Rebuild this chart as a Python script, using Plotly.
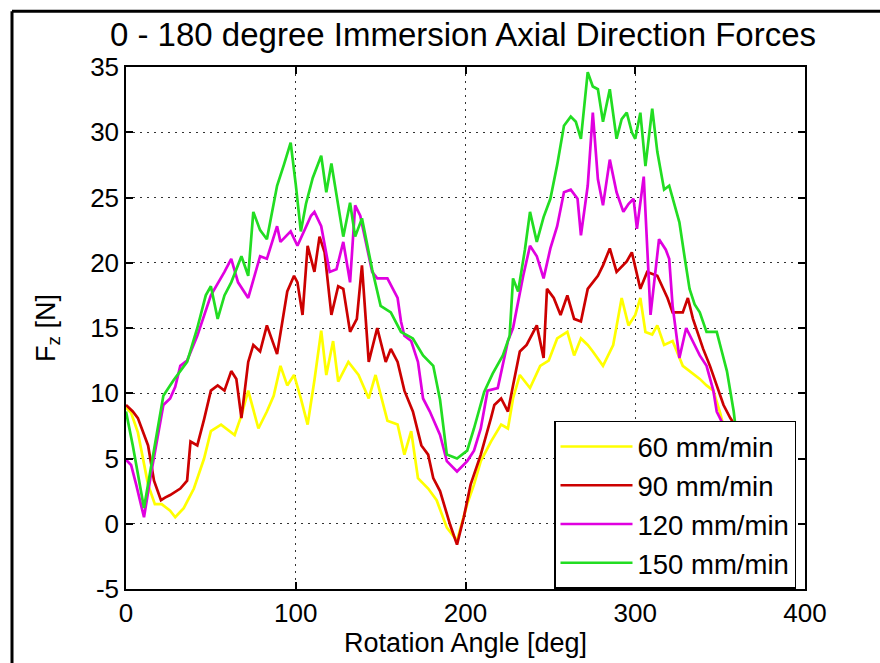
import plotly.graph_objects as go

# ---------------- data ----------------
angle_60 = [0, 3, 7, 10, 13, 17, 21, 26, 29, 34, 40, 46, 50, 56, 64, 68, 72, 78, 83, 87, 91, 95, 99,
            103, 107, 111, 115, 118, 122, 125, 131, 137, 143, 147, 154, 160, 164, 168, 172, 178, 183,
            189, 195, 201, 205, 209, 215, 221, 225, 228, 232, 238, 244, 249, 254, 260, 264, 268, 272,
            275, 281, 287, 292, 296, 300, 303, 306, 310, 313, 317, 322, 328, 332, 338, 342, 346, 350, 353]
force_60 = [8.9, 8.5, 7.0, 5.0, 3.0, 1.5, 1.5, 1.0, 0.5, 1.2, 2.7, 5.0, 7.1, 7.6, 6.8, 8.3, 10.2, 7.3,
            8.6, 9.8, 12.1, 10.6, 11.4, 9.6, 7.6, 11.0, 14.8, 11.4, 14.0, 10.9, 12.4, 11.4, 9.6, 11.4,
            7.9, 7.6, 5.3, 7.1, 3.5, 2.7, 1.8, -0.3, -1.3, 1.5, 3.0, 4.8, 6.3, 7.6, 7.3, 9.6, 11.4,
            10.4, 12.1, 12.5, 14.2, 14.7, 12.9, 14.2, 13.7, 13.2, 12.1, 13.7, 17.3, 15.2, 16.0, 17.3,
            14.7, 14.5, 15.2, 13.7, 14.0, 12.1, 11.7, 11.1, 10.6, 10.2, 8.5, 7.0]

angle_90 = [0, 4, 7, 13, 16.5, 20.6, 23, 26, 32, 36, 38, 42, 46, 50, 54, 58, 62, 65, 68, 72, 75, 79,
            83, 89, 95, 99, 101, 104, 107, 111, 114, 117, 121, 125, 128, 132, 136, 139, 143, 146, 148,
            153, 156, 160, 164, 169, 174, 178, 181, 185, 191, 195, 199, 203, 209, 215, 217, 221, 225,
            228, 232, 236, 242, 246, 248, 252, 256, 260, 264, 268, 272, 278, 281, 285, 289, 295, 298,
            303, 307, 313, 319, 322, 328, 331, 334, 340, 344, 348, 352, 356, 359]
force_90 = [9.1, 8.6, 8.1, 6.0, 3.3, 1.8, 2.0, 2.2, 2.7, 3.3, 6.3, 6.0, 8.0, 10.2, 10.6, 10.2, 11.7,
            11.1, 8.1, 12.4, 13.7, 13.2, 15.2, 13.0, 17.8, 19.0, 18.5, 16.0, 21.3, 19.3, 22.0, 20.8,
            16.0, 18.2, 18.0, 14.7, 15.7, 19.8, 12.4, 14.0, 15.0, 12.4, 13.4, 12.4, 10.2, 8.6, 6.0,
            5.3, 3.5, 2.5, -0.1, -1.6, 0.5, 3.0, 5.3, 8.1, 9.1, 9.6, 8.6, 10.6, 13.2, 13.7, 15.2,
            12.7, 18.0, 17.3, 16.0, 17.5, 15.7, 15.5, 18.0, 19.0, 19.8, 21.1, 19.3, 20.1, 20.8, 18.0,
            19.3, 19.0, 17.3, 16.2, 16.2, 17.3, 15.7, 13.4, 12.1, 10.6, 9.1, 8.1, 7.5]

angle_120 = [0, 3, 6, 10.6, 15, 19, 22, 26, 29, 32, 36, 42, 50, 58, 62, 66, 72, 79, 83, 89, 91, 97,
             101, 109, 111, 115, 120, 124, 128, 132, 135, 138, 142, 145, 148, 154, 160, 162, 164, 168,
             172, 175, 179, 185, 189, 195, 201, 205, 209, 213, 219, 225, 228, 234, 238, 242, 246, 250,
             254, 258, 262, 266, 268, 272, 275, 278, 281, 285, 289, 293, 296, 299, 301, 305, 309, 314,
             318, 320, 322, 326, 330, 334, 338, 342, 346, 348, 352, 356]
force_120 = [4.9, 4.5, 3.0, 0.5, 4.0, 7.0, 9.1, 9.6, 10.5, 12.1, 12.5, 14.4, 17.5, 19.3, 20.3, 18.5,
             17.3, 20.5, 20.3, 22.8, 21.6, 22.4, 21.3, 23.6, 23.9, 22.8, 19.3, 19.5, 21.6, 18.5, 24.4,
             23.6, 21.0, 19.3, 18.8, 18.8, 17.3, 15.5, 14.4, 14.0, 12.4, 9.6, 8.6, 6.8, 4.8, 4.0, 4.8,
             5.6, 7.3, 10.2, 10.4, 14.0, 15.0, 19.0, 21.3, 20.5, 18.8, 21.1, 22.8, 25.4, 25.6, 24.9,
             22.1, 25.9, 31.5, 26.4, 24.4, 27.9, 25.4, 23.9, 24.5, 24.9, 22.6, 26.6, 16.0, 21.8, 21.0,
             20.3, 16.7, 12.7, 15.0, 14.0, 12.9, 12.1, 10.2, 8.6, 7.5, 6.5]

angle_150 = [0, 4, 10.6, 15, 22, 28, 36, 42, 47, 50, 54, 58, 62, 68, 72, 75, 79, 83, 86, 89, 93, 97,
             100, 103, 106, 110, 115, 118, 121, 125, 128, 132, 135, 139, 142, 145, 150, 156, 162, 169,
             175, 181, 185, 189, 195, 201, 205, 211, 216, 222, 226, 228, 231, 235, 238, 242, 246, 250,
             254, 258, 262, 265, 268, 272, 275, 278, 281, 285, 289, 292, 295, 298, 300, 303, 306, 310,
             313, 317, 320, 323, 326, 329, 332, 335, 338, 342, 348, 351, 354, 358, 359]
force_150 = [8.6, 6.0, 1.2, 4.5, 9.8, 11.0, 12.4, 15.0, 17.5, 18.2, 15.7, 17.5, 18.5, 20.5, 19.0,
             23.9, 22.5, 21.8, 24.0, 25.9, 27.5, 29.2, 26.0, 22.4, 24.5, 26.5, 28.2, 25.4, 27.6, 24.5,
             22.0, 24.6, 22.0, 23.4, 21.5, 19.5, 16.7, 16.2, 14.7, 14.2, 12.9, 12.1, 9.5, 5.3, 5.0,
             5.6, 7.3, 10.1, 11.5, 12.9, 14.4, 18.8, 17.8, 21.0, 23.9, 21.6, 23.5, 24.9, 27.5, 30.5,
             31.2, 30.8, 29.5, 34.6, 33.5, 33.3, 30.8, 33.3, 29.5, 31.0, 31.5, 30.0, 29.5, 31.5, 27.4,
             31.8, 28.5, 25.6, 25.9, 24.5, 23.1, 20.5, 18.0, 16.8, 16.2, 14.7, 14.7, 13.2, 11.7, 8.6, 7.5]

series_names = ["60 mm/min", "90 mm/min", "120 mm/min", "150 mm/min"]
series_x = [angle_60, angle_90, angle_120, angle_150]
series_y = [force_60, force_90, force_120, force_150]
series_colors = ["#ffff00", "#cc0000", "#e000e0", "#22dd22"]

x_ticks = [0, 100, 200, 300, 400]
x_tick_labels = ["0", "100", "200", "300", "400"]
y_ticks = [-5, 0, 5, 10, 15, 20, 25, 30, 35]
y_tick_labels = ["-5", "0", "5", "10", "15", "20", "25", "30", "35"]

title_text = "0 - 180 degree Immersion Axial Direction Forces"
x_title = "Rotation Angle [deg]"
y_title = "F<sub>z</sub> [N]"

# ---------------- figure ----------------
FONT = "Liberation Sans, Arial, sans-serif"
fig = go.Figure()
for i, (nm, xs, ys, col) in enumerate(zip(series_names, series_x, series_y, series_colors)):
    fig.add_trace(go.Scatter(x=xs, y=ys, mode="lines", name=nm, legendgroup=f"g{i}",
                             line=dict(color=col, width=2.7)))

W, H = 880, 663
L, R, T, B = 126, 75, 67, 72
pw, ph = W - L - R, H - T - B

def px_to_paper_x(px):
    return (px - L) / pw

def px_to_paper_y(py):
    return (H - B - py) / ph

axis_common = dict(showline=True, linecolor="black", linewidth=1.5, mirror="ticks",
                   ticks="inside", ticklen=7, tickcolor="black", tickwidth=1.5,
                   showgrid=True, gridcolor="#333333", griddash="2px,5px", gridwidth=1,
                   zeroline=False, tickfont=dict(family=FONT, size=26, color="black"))

fig.update_layout(
    width=W, height=H,
    margin=dict(l=L, r=R, t=T, b=B),
    paper_bgcolor="white", plot_bgcolor="white",
    font=dict(family=FONT, color="black"),
    title=dict(text=title_text, x=px_to_paper_x(463), xref="paper", xanchor="center",
               y=1 - 34 / H, yref="container", yanchor="middle",
               font=dict(family=FONT, size=33, color="black")),
    xaxis=dict(range=[0, 400], tickvals=x_ticks, ticktext=x_tick_labels,
               title=dict(text=x_title, font=dict(family=FONT, size=27), standoff=4),
               **axis_common),
    yaxis=dict(range=[-5, 35], tickvals=y_ticks, ticktext=y_tick_labels,
               title=dict(text=y_title, font=dict(family=FONT, size=27), standoff=27),
               **axis_common),
    legend=dict(x=px_to_paper_x(796), xanchor="right", y=px_to_paper_y(422), yanchor="top",
                bgcolor="white", bordercolor="black", borderwidth=1.5,
                font=dict(family=FONT, size=27.5, color="black"),
                tracegroupgap=0, itemwidth=72),
    showlegend=True,
)

# outer frame of the picture
fig.add_shape(type="line", xref="paper", yref="paper",
              x0=px_to_paper_x(12), x1=px_to_paper_x(12), y0=px_to_paper_y(11), y1=px_to_paper_y(670),
              line=dict(color="black", width=3))
fig.add_shape(type="line", xref="paper", yref="paper",
              x0=px_to_paper_x(12), x1=px_to_paper_x(885), y0=px_to_paper_y(11), y1=px_to_paper_y(11),
              line=dict(color="black", width=3))

fig.write_html("out.html")
